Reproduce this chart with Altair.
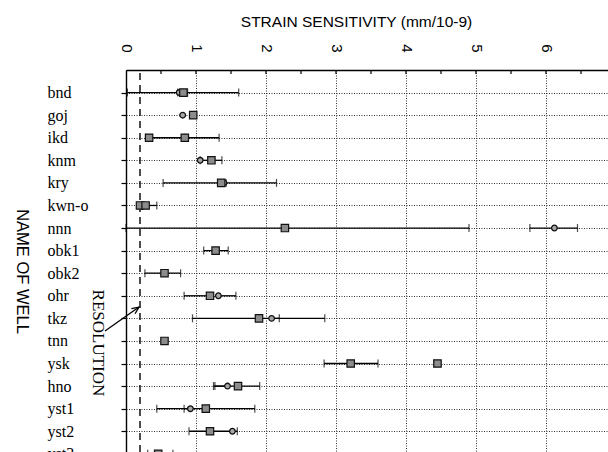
import altair as alt
import pandas as pd

# ---- data ----
wells = ["bnd", "goj", "ikd", "knm", "kry", "kwn-o", "nnn", "obk1", "obk2",
         "ohr", "tkz", "tnn", "ysk", "hno", "yst1", "yst2", "yst3"]

pt_well = ["bnd", "bnd", "goj", "goj", "ikd", "ikd", "knm", "knm", "kry", "kry",
           "kwn-o", "kwn-o", "nnn", "nnn", "obk1", "obk2", "ohr", "ohr", "tkz", "tkz",
           "tnn", "ysk", "ysk", "hno", "hno", "yst1", "yst1", "yst2", "yst2", "yst3"]
pt_shape = ["circle", "square", "circle", "square", "square", "square", "circle", "square",
            "square", "circle", "square", "square", "square", "circle", "square", "square",
            "square", "circle", "square", "circle", "square", "square", "square", "circle",
            "square", "circle", "square", "square", "circle", "square"]
pt_value = [0.76, 0.82, 0.81, 0.96, 0.33, 0.84, 1.06, 1.22, 1.36, 1.40,
            0.20, 0.28, 2.27, 6.12, 1.28, 0.55, 1.20, 1.32, 1.90, 2.08,
            0.55, 3.21, 4.45, 1.45, 1.60, 0.92, 1.14, 1.20, 1.52, 0.46]
pt_lo = [0.02, 0.74, None, None, 0.28, None, None, 1.06, 0.53, None,
         None, None, 0.0, 5.77, 1.11, 0.27, 0.83, None, 0.95, None,
         None, 2.83, 4.40, 1.25, 1.27, 0.44, 0.83, 0.90, None, 0.31]
pt_hi = [1.61, 0.88, None, None, 0.84, 1.33, None, 1.37, 2.15, 1.43,
         0.44, None, 4.90, 6.45, 1.46, 0.78, None, 1.57, 2.19, 2.84,
         None, 3.60, None, None, 1.91, None, 1.84, 1.59, None, 0.67]

x_ticks = [0, 1, 2, 3, 4, 5, 6, 7]
minor_ticks = [0.5, 1, 1.5, 2, 2.5, 3, 3.5, 4, 4.5, 5, 5.5, 6, 6.5, 7]
resolution_x = [0.2]
note_text = ["RESOLUTION"]
note_x = [-0.4]
note_y = [12.09]
arrow_x0 = [-0.3]
arrow_y0 = [11.56]
arrow_x1 = [0.186]
arrow_y1 = [10.5]

# ---- tables ----
pts = pd.DataFrame({"well": pt_well, "shape": pt_shape, "value": pt_value,
                    "lo": pt_lo, "hi": pt_hi})
pts["row"] = pts["well"].map(lambda w: wells.index(w) + 1)
pts["lo"] = pd.to_numeric(pts["lo"])
pts["hi"] = pd.to_numeric(pts["hi"])

err = pts[pts["lo"].notna() | pts["hi"].notna()].copy()
err["x1"] = err["lo"].fillna(err["value"])
err["x2"] = err["hi"].fillna(err["value"])
err = err[["well", "row", "x1", "x2"]]

caps = pd.concat([
    pts[pts["lo"].notna()][["row", "lo"]].rename(columns={"lo": "cap"}),
    pts[pts["hi"].notna()][["row", "hi"]].rename(columns={"hi": "cap"}),
])

marks_df = pts[["well", "shape", "value", "row"]]

x_scale = alt.Scale(domain=[0, 7], range=[0, 490], nice=False, zero=False)
y_scale = alt.Scale(domain=[0, 18], range=[0, 406.4], nice=False, zero=False)

label_expr = "[" + ",".join("'%s'" % w for w in wells) + "][datum.value - 1]"

x_axis = alt.Axis(
    orient="top", values=x_ticks, title="STRAIN SENSITIVITY (mm/10-9)",
    titleFont="Liberation Sans", titleFontSize=15.5, titleFontWeight="normal",
    titleColor="black", titleX=230, titleY=-49, titleAlign="center",
    titleBaseline="middle",
    labelAngle=90, labelAlign="center", labelBaseline="middle", labelPadding=22,
    labelFont="Liberation Sans", labelFontSize=15, labelColor="black",
    labelFlush=False, labelOverlap=False,
    ticks=False, tickSize=0, domain=True, domainColor="black", domainWidth=1.4,
    grid=True, gridColor="#333333", gridDash=[1, 1.5], gridWidth=1,
)
y_axis = alt.Axis(
    orient="left", values=list(range(1, 18)), labelExpr=label_expr,
    labelAlign="left", labelBaseline="middle", labelPadding=74,
    labelFont="Liberation Serif", labelFontSize=16, labelColor="black",
    labelFlush=False, labelOverlap=False,
    ticks=True, tickSize=5, tickColor="black", tickWidth=1.2,
    domain=True, domainColor="black", domainWidth=1.4,
    grid=True, gridColor="#333333", gridDash=[1, 1.5], gridWidth=1,
    title="NAME OF WELL", titleAngle=90, titleX=-105, titleY=201,
    titleAlign="center", titleBaseline="middle", titleFont="Liberation Sans",
    titleFontSize=16.5, titleFontWeight="normal", titleColor="black",
)


def X(field):
    return alt.X(field, scale=x_scale, axis=x_axis)


def Y(field):
    return alt.Y(field, scale=y_scale, axis=y_axis)


# error bars (horizontal segments)
err_layer = alt.Chart(err).mark_rule(color="black", strokeWidth=1.3).encode(
    x=X("x1:Q"), x2="x2:Q", y=Y("row:Q"),
)

cap_layer = alt.Chart(caps).mark_tick(
    orient="vertical", color="black", thickness=1.2, size=8
).encode(x=X("cap:Q"), y=Y("row:Q"))

circ_layer = alt.Chart(marks_df).transform_filter(
    alt.datum.shape == "circle"
).mark_circle(size=32, fill="#a8a8a8", stroke="#111111", strokeWidth=1.3, opacity=1).encode(
    x=X("value:Q"), y=Y("row:Q"),
)

sq_layer = alt.Chart(marks_df).transform_filter(
    alt.datum.shape == "square"
).mark_square(size=55, fill="#8c8c8c", stroke="#111111", strokeWidth=1.2, opacity=1).encode(
    x=X("value:Q"), y=Y("row:Q"),
)

minor_layer = alt.Chart(pd.DataFrame({"v": minor_ticks})).mark_rule(
    color="black", strokeWidth=1.2
).encode(x=X("v:Q"), y=alt.value(0), y2=alt.value(4))

res_layer = alt.Chart(pd.DataFrame({"v": resolution_x})).mark_rule(
    color="black", strokeWidth=1.4, strokeDash=[7, 5]
).encode(x=X("v:Q"), y=alt.value(3), y2=alt.value(406))

note_layer = alt.Chart(pd.DataFrame({"t": note_text, "x": note_x, "y": note_y})).mark_text(
    angle=90, font="Liberation Serif", fontSize=17, align="center",
    baseline="middle", color="black"
).encode(x=X("x:Q"), y=Y("y:Q"), text="t:N")

arrow_df = pd.DataFrame({"x0": arrow_x0, "y0": arrow_y0, "x1": arrow_x1, "y1": arrow_y1})
arrow_line = alt.Chart(arrow_df).mark_rule(color="black", strokeWidth=1.3).encode(
    x=X("x0:Q"), y=Y("y0:Q"), x2="x1:Q", y2="y1:Q",
)
arrow_head = alt.Chart(arrow_df).mark_point(
    shape="M-0.45,1 L0,0 L0.45,1", filled=False, stroke="black",
    strokeWidth=1.3, size=200, angle=55, opacity=1
).encode(x=X("x1:Q"), y=Y("y1:Q"))

chart = alt.layer(
    err_layer, res_layer, minor_layer, cap_layer, circ_layer, sq_layer,
    note_layer, arrow_line, arrow_head,
).properties(
    width=482, height=382,
    autosize=alt.AutoSizeParams(type="none"),
    padding={"left": 126, "top": 70, "right": 0, "bottom": 0},
    background="white",
).configure_view(strokeWidth=0)

chart.save("out.html", embed_options={"renderer": "svg", "actions": False})
